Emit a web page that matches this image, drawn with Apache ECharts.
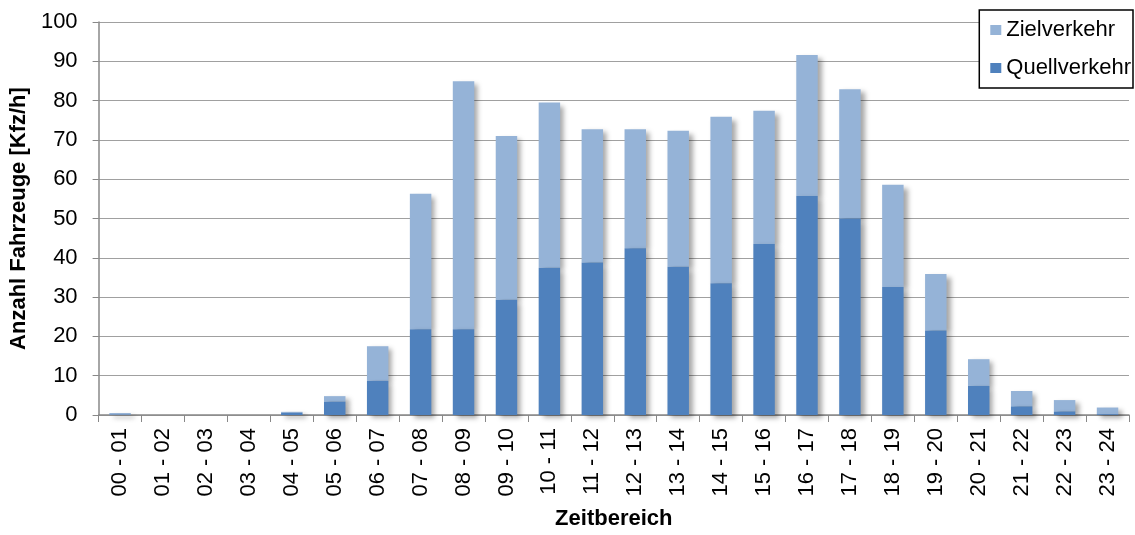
<!DOCTYPE html>
<html><head><meta charset="utf-8">
<script src="https://cdn.jsdelivr.net/npm/echarts@6/dist/echarts.min.js"></script>
<style>html,body{margin:0;padding:0;background:#fff}#c{width:1135px;height:535px}</style>
</head><body><div id="c"></div>
<script>
const categories = ["00 - 01","01 - 02","02 - 03","03 - 04","04 - 05","05 - 06","06 - 07","07 - 08","08 - 09","09 - 10","10 - 11","11 - 12","12 - 13","13 - 14","14 - 15","15 - 16","16 - 17","17 - 18","18 - 19","19 - 20","20 - 21","21 - 22","22 - 23","23 - 24"];
const quellverkehr = [0.1,0,0,0,0.6,3.4,8.7,21.8,21.8,29.3,37.5,38.8,42.4,37.7,33.5,43.5,55.7,50.0,32.6,21.5,7.4,2.2,0.9,0.2];
const zielverkehrTotal = [0.5,0,0,0,0.8,4.8,17.5,56.3,84.9,71.0,79.5,72.7,72.7,72.3,75.9,77.4,91.6,82.9,58.6,35.9,14.2,6.1,3.8,1.9];
const zielverkehr = zielverkehrTotal.map((t,i)=>+(t-quellverkehr[i]).toFixed(1));
const yTicks = {min:0,max:100,interval:10};

const chart = echarts.init(document.getElementById('c'));
const font = 'Liberation Sans, Arial, sans-serif';
const shadow = {shadowBlur:5, shadowOffsetX:4, shadowOffsetY:3, shadowColor:'rgba(0,0,0,0.35)'};
chart.setOption({
  animation:false,
  textStyle:{fontFamily:font},
  grid:{left:94,right:6,top:22,bottom:113},
  legend:{
    orient:'vertical', right:2, top:10,
    data:['Zielverkehr','Quellverkehr'],
    icon:'rect', itemWidth:11, itemHeight:10, itemGap:16,
    borderColor:'#000', borderWidth:1.5, borderRadius:0,
    padding:[9,2,9,11],
    backgroundColor:'#fff',
    textStyle:{fontSize:22, color:'#000', fontFamily:font}
  },
  xAxis:{
    type:'category', data:categories,
    name:'Zeitbereich', nameLocation:'middle', nameGap:93,
    nameTextStyle:{fontSize:22, fontWeight:'bold', color:'#000', fontFamily:font},
    axisLine:{lineStyle:{color:'#888', width:1.5}},
    axisTick:{show:true, alignWithLabel:false, length:7, lineStyle:{color:'#888'}},
    axisLabel:{rotate:90, fontSize:22, color:'#000', margin:13, fontFamily:font}
  },
  yAxis:{
    type:'value', min:yTicks.min, max:yTicks.max, interval:yTicks.interval,
    name:'Anzahl Fahrzeuge [Kfz/h]', nameLocation:'middle', nameGap:66,
    nameTextStyle:{fontSize:22, fontWeight:'bold', color:'#000', fontFamily:font},
    axisLine:{show:true, lineStyle:{color:'#888', width:1.5}},
    axisTick:{show:true, length:6, lineStyle:{color:'#888'}},
    axisLabel:{fontSize:22, color:'#000', margin:21, fontFamily:font},
    splitLine:{lineStyle:{color:'#a0a0a0', width:1.2}}
  },
  series:[
    {name:'Quellverkehr', type:'bar', stack:'a', data:quellverkehr, barWidth:'50%', z:3,
     itemStyle:Object.assign({color:'#4F81BD'}, shadow)},
    {name:'Zielverkehr', type:'bar', stack:'a', data:zielverkehr, barWidth:'50%', z:2,
     itemStyle:Object.assign({color:'#95B3D7'}, shadow)}
  ]
});
</script></body></html>
